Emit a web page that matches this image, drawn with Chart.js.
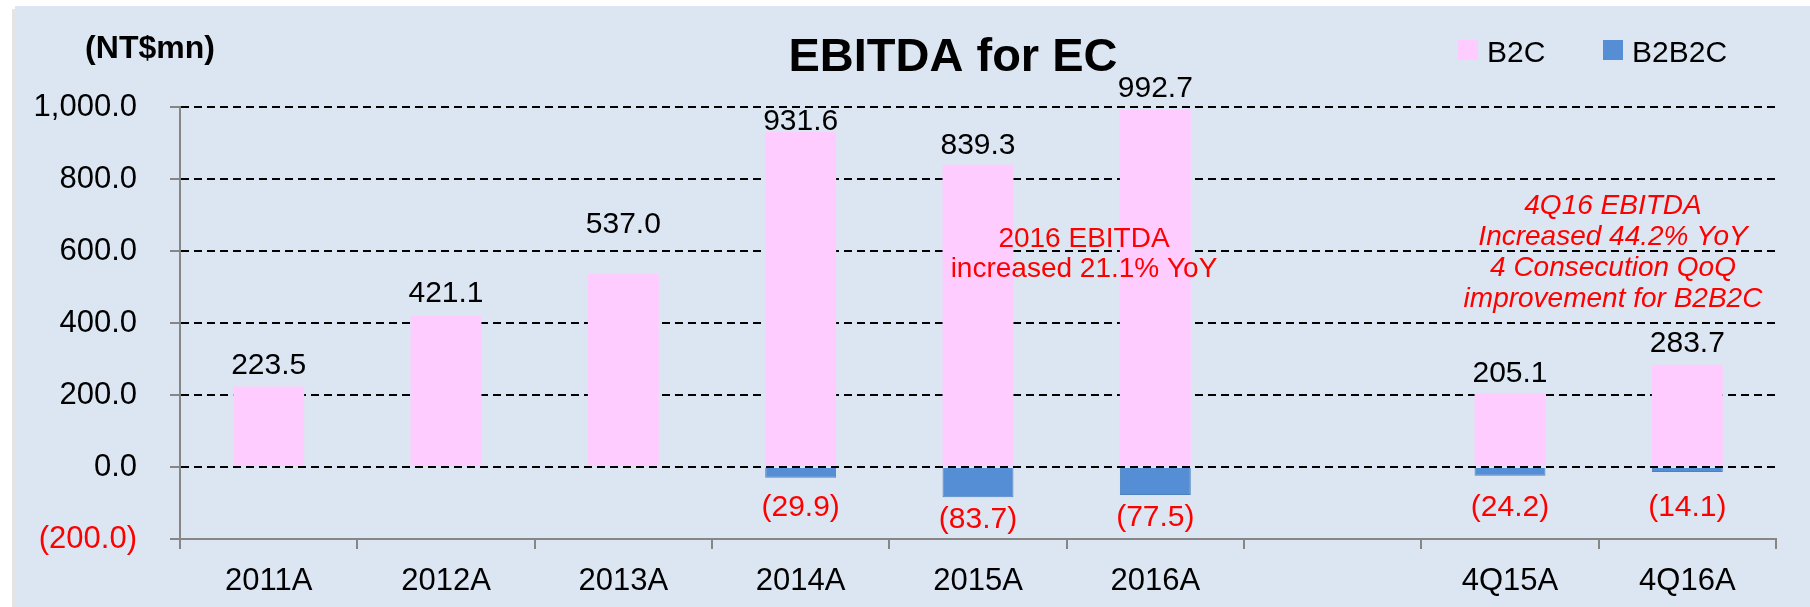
<!DOCTYPE html>
<html>
<head>
<meta charset="utf-8">
<title>EBITDA for EC</title>
<script src="https://cdn.jsdelivr.net/npm/chart.js@4/dist/chart.umd.min.js"></script>
<style>
  html, body { margin: 0; padding: 0; background: #fff; }
  #wrap { width: 1810px; height: 607px; }
</style>
</head>
<body>
<div id="wrap"><canvas id="chart" width="1810" height="607"></canvas></div>
<script>
// Chart data
const categories = ['2011A', '2012A', '2013A', '2014A', '2015A', '2016A', '', '4Q15A', '4Q16A'];
const b2cValues = [223.5, 421.1, 537.0, 931.6, 839.3, 992.7, null, 205.1, 283.7];
const b2b2cValues = [null, null, null, -29.9, -83.7, -77.5, null, -24.2, -14.1];
const yMin = -200;
const yMax = 1000;
const yStep = 200;
const seriesNames = ['B2C', 'B2B2C'];
const noteYear = ['2016 EBITDA', 'increased 21.1% YoY'];
const noteQuarter = ['4Q16 EBITDA', 'Increased 44.2% YoY', '4 Consecution QoQ', 'improvement for B2B2C'];

// how far above the bar top each B2C label sits (px), some were moved by hand
const labelLift = [21, 22, 49, 10, 19, 21, 0, 19, 21];

const FONT = '"Liberation Sans", Arial, sans-serif';
const PINK = '#FFCCFF';
const BLUE = '#558ED5';
const GREY = '#868686';

function fmt(v) {
  const s = Math.abs(v).toLocaleString('en-US', { minimumFractionDigits: 1, maximumFractionDigits: 1 });
  return v < 0 ? '(' + s + ')' : s;
}

// Background panel
const backgroundPlugin = {
  id: 'panel',
  beforeDraw(chart) {
    const ctx = chart.ctx;
    ctx.save();
    ctx.fillStyle = '#fff';
    ctx.fillRect(0, 0, chart.width, chart.height);
    ctx.fillStyle = '#E4E4E4';
    ctx.fillRect(12, 9, 3, chart.height);
    ctx.fillStyle = '#DCE6F2';
    ctx.fillRect(15, 6, chart.width - 15, chart.height - 6);
    ctx.restore();
  }
};

// Value labels, title, legend and notes
const textPlugin = {
  id: 'texts',
  afterDatasetsDraw(chart) {
    const ctx = chart.ctx;
    ctx.save();
    ctx.textAlign = 'center';
    ctx.textBaseline = 'middle';
    ctx.font = '30px ' + FONT;

    const pos = chart.getDatasetMeta(0);
    pos.data.forEach((bar, i) => {
      const v = b2cValues[i];
      if (v == null) return;
      ctx.fillStyle = '#000';
      ctx.fillText(fmt(v), bar.x, bar.y - labelLift[i]);
    });

    const neg = chart.getDatasetMeta(1);
    neg.data.forEach((bar, i) => {
      const v = b2b2cValues[i];
      if (v == null) return;
      ctx.fillStyle = '#FF0000';
      ctx.fillText(fmt(v), bar.x, Math.max(bar.y + 23, 508));
    });

    // title + unit
    ctx.textBaseline = 'alphabetic';
    ctx.fillStyle = '#000';
    ctx.font = 'bold 47px ' + FONT;
    ctx.fillText('EBITDA for EC', 953, 71);
    ctx.font = 'bold 32px ' + FONT;
    ctx.fillText('(NT$mn)', 150, 58);

    // legend
    ctx.textAlign = 'left';
    ctx.font = '30px ' + FONT;
    const legend = [[1458, PINK, seriesNames[0]], [1603, BLUE, seriesNames[1]]];
    legend.forEach(([x, col, name]) => {
      ctx.fillStyle = col;
      ctx.fillRect(x, 40, 20, 20);
      ctx.fillStyle = '#000';
      ctx.fillText(name, x + 29, 62);
    });

    // notes
    ctx.textAlign = 'center';
    ctx.fillStyle = '#FF0000';
    ctx.font = '28px ' + FONT;
    noteYear.forEach((t, i) => ctx.fillText(t, 1084, 247 + i * 30));
    ctx.font = 'italic 28px ' + FONT;
    noteQuarter.forEach((t, i) => ctx.fillText(t, 1613, 214 + i * 31));
    ctx.restore();
  }
};

new Chart(document.getElementById('chart'), {
  type: 'bar',
  data: {
    labels: categories,
    datasets: [
      {
        label: seriesNames[0],
        data: b2cValues,
        backgroundColor: PINK,
        borderWidth: 0
      },
      {
        label: seriesNames[1],
        data: b2b2cValues,
        backgroundColor: BLUE,
        borderColor: '#4F81BD',
        borderWidth: 1
      }
    ]
  },
  options: {
    responsive: false,
    animation: false,
    events: [],
    layout: { padding: { top: 107, right: 34, left: 0, bottom: 0 } },
    datasets: { bar: { barPercentage: 1, categoryPercentage: 0.4 } },
    plugins: {
      legend: { display: false },
      title: { display: false },
      tooltip: { enabled: false }
    },
    scales: {
      x: {
        stacked: true,
        afterFit(scale) { scale.height = 68; },
        grid: {
          offset: true,
          drawOnChartArea: false,
          color: GREY,
          lineWidth: 2,
          tickLength: 10
        },
        border: { color: GREY, width: 2 },
        ticks: {
          color: '#000',
          padding: 14,
          font: { family: FONT, size: 31 }
        }
      },
      y: {
        stacked: true,
        min: yMin,
        max: yMax,
        afterFit(scale) { scale.width = 180; },
        grid: {
          color: ctx => ctx.tick && ctx.tick.value === yMin ? 'rgba(0,0,0,0)' : '#000',
          lineWidth: 2,
          borderDash: [8, 5],
          tickColor: GREY,
          tickWidth: 2,
          tickLength: 10,
          tickBorderDash: [1, 0]
        },
        border: { color: GREY, width: 2, dash: [8, 5] },
        ticks: {
          stepSize: yStep,
          padding: 33,
          color: ctx => ctx.tick.value < 0 ? '#FF0000' : '#000',
          font: { family: FONT, size: 31 },
          callback: v => fmt(v)
        }
      }
    }
  },
  plugins: [backgroundPlugin, textPlugin]
});
</script>
</body>
</html>
